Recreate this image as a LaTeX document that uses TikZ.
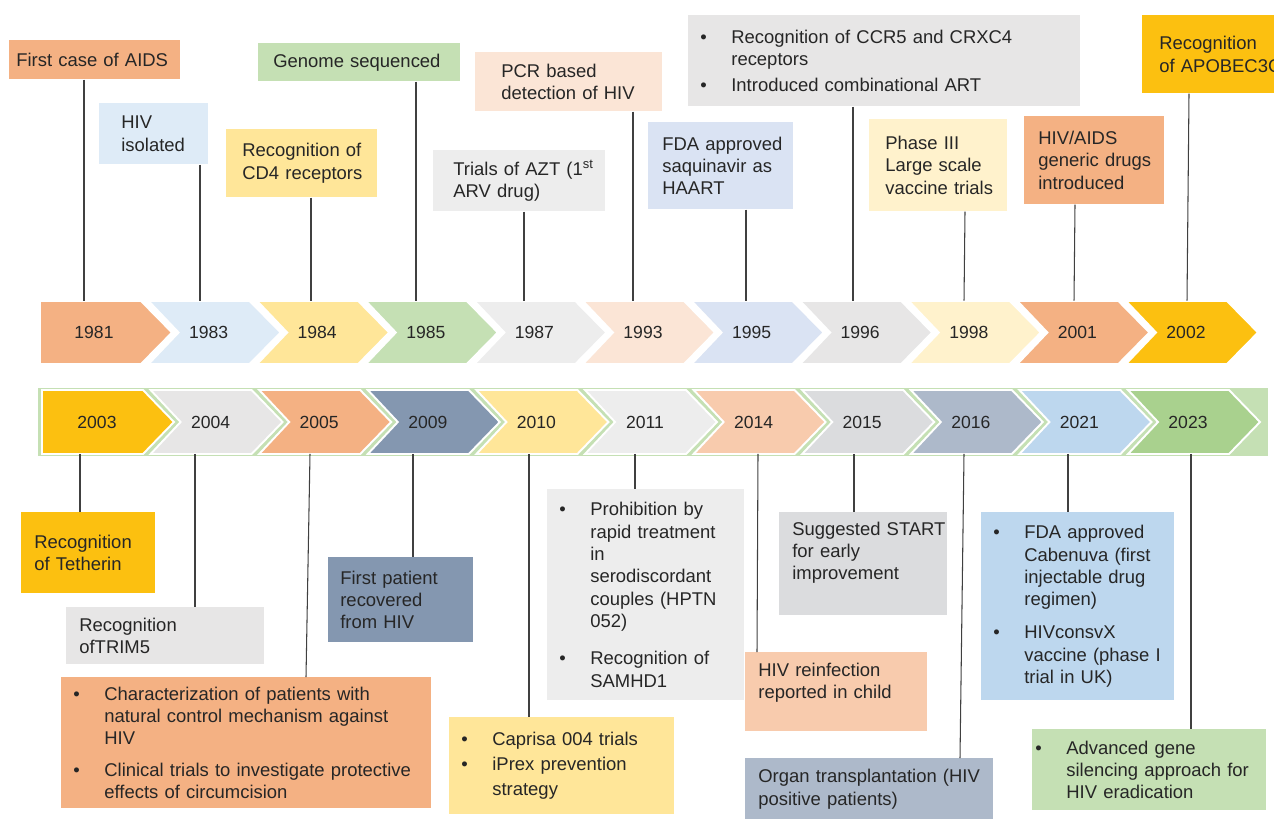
\documentclass[tikz,border=0pt]{standalone}
\usepackage{fontspec}
\setmainfont{Liberation Sans}
\usepackage{xcolor}
\definecolor{peachorange}{HTML}{F4B183}
\definecolor{iceblue}{HTML}{DEEBF7}
\definecolor{butter}{HTML}{FFE699}
\definecolor{sage}{HTML}{C5E0B4}
\definecolor{mistgray}{HTML}{EDEDED}
\definecolor{blush}{HTML}{FBE5D6}
\definecolor{powderblue}{HTML}{DAE3F3}
\definecolor{stonegray}{HTML}{E7E6E6}
\definecolor{cream}{HTML}{FFF2CC}
\definecolor{amber}{HTML}{FCC010}
\definecolor{slateblue}{HTML}{8497B0}
\definecolor{apricot}{HTML}{F8CBAD}
\definecolor{silvergray}{HTML}{DBDCDE}
\definecolor{steelgray}{HTML}{ADB9CA}
\definecolor{skyblue}{HTML}{BDD7EE}
\definecolor{leafgreen}{HTML}{A9D18E}
\definecolor{inkgray}{HTML}{262626}
\definecolor{linegray}{HTML}{404040}
\newlength{\pxu}
\setlength{\pxu}{0.02cm}
\newcommand{\evfont}{\fontsize{10.5}{12.7}\selectfont}
\newcommand{\yrfont}{\fontsize{10}{12}\selectfont}
\newcommand{\bul}{\makebox[31\pxu][l]{\textbullet}}
\newcommand{\bhang}{\hspace*{31\pxu}}

\begin{document}
\begin{tikzpicture}[
    x=0.02cm, y=-0.02cm,
    evbox/.style={rectangle, anchor=north west, inner sep=0pt, align=left, font=\evfont, text=inkgray},
    boxsize/.style 2 args={text width=#1\pxu, minimum height=#2\pxu},
    lpad/.style={execute at begin node={\leftskip=#1\pxu\relax\rightskip=-20\pxu plus 1fil\relax}},
    yearlbl/.style={inner sep=0pt, minimum height=63\pxu, font=\yrfont, text=inkgray},
    chev/.style={draw=white, line width=1.1pt},
    conn/.style={draw=linegray, line width=0.6pt}
]
\useasboundingbox (0,0) rectangle (1274,818);
\clip (0,0) rectangle (1274,818);

% upper row of years
\foreach \yr/\col [count=\i from 0] in {1981/peachorange, 1983/iceblue, 1984/butter, 1985/sage, 1987/mistgray, 1993/blush, 1995/powderblue, 1996/stonegray, 1998/cream, 2001/peachorange, 2002/amber} {
  \pgfmathsetmacro{\xo}{40+108.6*\i}
  \pgfmathsetmacro{\nd}{\i==0 ? 0 : 30}
  \pgfmathsetmacro{\xl}{\xo+(\i==0 ? 54 : 60)}
  \path[chev, fill=\col] (\xo,301) -- ++(101,0) -- ++(31,31.5) -- ++(-31,31.5) -- (\xo,364) -- ++(\nd,-31.5) -- cycle;
  \node[yearlbl] (y\yr) at (\xl,332.5) {\yr};
}

% lower row of years
\fill[sage] (38,388) rectangle (1268,456);
\foreach \yr/\col [count=\i from 0] in {2003/amber, 2004/stonegray, 2005/peachorange, 2009/slateblue, 2010/butter, 2011/mistgray, 2014/apricot, 2015/silvergray, 2016/steelgray, 2021/skyblue, 2023/leafgreen} {
  \pgfmathsetmacro{\xo}{42+108.6*\i}
  \pgfmathsetmacro{\nd}{\i==0 ? 0 : 30}
  \pgfmathsetmacro{\xl}{\xo+(\i==0 ? 55 : 60)}
  \path[chev, fill=\col] (\xo,390) -- ++(101,0) -- ++(31,32) -- ++(-31,32) -- (\xo,454) -- ++(\nd,-32) -- cycle;
  \node[yearlbl] (y\yr) at (\xl,422) {\yr};
}

% events above
\node[evbox, fill=peachorange, boxsize={171}{39}, lpad=7] (ev1981) at (9,40) {First case of AIDS};
\node[evbox, fill=iceblue, boxsize={109}{61}, lpad=22] (ev1983) at (99,103) {HIV\\isolated};
\node[evbox, fill=butter, boxsize={151}{68}, lpad=16] (ev1984) at (226,129) {Recognition of\\CD4 receptors};
\node[evbox, fill=sage, boxsize={202}{38}, lpad=15] (ev1985) at (258,43) {Genome sequenced};
\node[evbox, fill=mistgray, boxsize={172}{61}, lpad=20] (ev1987) at (433,150) {Trials of AZT (1\textsuperscript{st}\\ARV drug)};
\node[evbox, fill=blush, boxsize={187}{59}, lpad=26] (ev1993) at (475,52) {PCR based\\detection of HIV};
\node[evbox, fill=powderblue, boxsize={145}{87}, lpad=14] (ev1995) at (648,122) {FDA approved\\saquinavir as\\HAART};
\node[evbox, fill=stonegray, boxsize={392}{91}, lpad=12] (ev1996) at (688,15) {\bul Recognition of CCR5 and CRXC4\\\bhang receptors\\[4\pxu]\bul Introduced combinational ART};
\node[evbox, fill=cream, boxsize={138}{92}, lpad=16] (ev1998) at (869,119) {Phase III\\Large scale\\vaccine trials};
\node[evbox, fill=peachorange, boxsize={140}{88}, lpad=14] (ev2001) at (1024,116) {HIV/AIDS\\generic drugs\\introduced};
\node[evbox, fill=amber, boxsize={150}{78}, lpad=17] (ev2002) at (1142,15) {Recognition\\of APOBEC3G};

% events below
\node[evbox, fill=amber, boxsize={134}{81}, lpad=13] (ev2003) at (21,512) {Recognition\\of Tetherin};
\node[evbox, fill=stonegray, boxsize={198}{57}, lpad=13] (ev2004) at (66,607) {Recognition\\ofTRIM5};
\node[evbox, fill=peachorange, boxsize={370}{131}, lpad=12] (ev2005) at (61,677) {\bul Characterization of patients with\\\bhang natural control mechanism against\\\bhang HIV\\[9\pxu]\bul Clinical trials to investigate protective\\\bhang effects of circumcision};
\node[evbox, fill=slateblue, boxsize={145}{85}, lpad=12] (ev2009) at (328,557) {First patient\\recovered\\from HIV};
\node[evbox, fill=butter, boxsize={225}{97}, lpad=12] (ev2010) at (449,717) {\bul Caprisa 004 trials\\[2.6\pxu]\bul iPrex prevention\\[2.6\pxu]\bhang strategy};
\node[evbox, fill=mistgray, boxsize={197}{211}, lpad=12] (ev2011) at (547,489) {\bul Prohibition by\\\bhang rapid treatment\\\bhang in\\\bhang serodiscordant\\\bhang couples (HPTN\\\bhang 052)\\[15\pxu]\bul Recognition of\\\bhang SAMHD1};
\node[evbox, fill=apricot, boxsize={182}{79}, lpad=13] (ev2014) at (745,652) {HIV reinfection\\reported in child\\\mbox{}};
\node[evbox, fill=silvergray, boxsize={168}{103}, lpad=13] (ev2015) at (779,512) {Suggested START\\for early\\improvement\\[4\pxu]\mbox{}};
\node[evbox, fill=steelgray, boxsize={248}{62}, lpad=13] (ev2016) at (745,758) {Organ transplantation (HIV\\positive patients)};
\node[evbox, fill=skyblue, boxsize={193}{188}, lpad=12] (ev2021) at (981,512) {\bul FDA approved\\\bhang Cabenuva (first\\\bhang injectable drug\\\bhang regimen)\\[11\pxu]\bul HIVconsvX\\\bhang vaccine (phase I\\\bhang trial in UK)};
\node[evbox, fill=sage, boxsize={234}{81}, lpad=3] (ev2023) at (1032,729) {\bul Advanced gene\\\bhang silencing approach for\\\bhang HIV eradication};

% connectors
\foreach \yr/\xa/\xb in {1981/84/84, 1983/200/200, 1984/311/311, 1985/416/416, 1987/524/524, 1993/633/633, 1995/746/746, 1996/853/853, 1998/965/964, 2001/1075/1074, 2002/1189/1187}
  \draw[conn] (ev\yr.south -| \xa,0) -- (y\yr.north -| \xb,0);
\foreach \yr/\xa/\xb in {2003/80/80, 2004/195/195, 2005/310/306, 2009/413/413, 2010/529/529, 2011/635/635, 2014/758/757, 2015/854/854, 2016/964/960, 2021/1068/1068, 2023/1191/1191}
  \draw[conn] (y\yr.south -| \xa,0) -- (ev\yr.north -| \xb,0);

\end{tikzpicture}
\end{document}
